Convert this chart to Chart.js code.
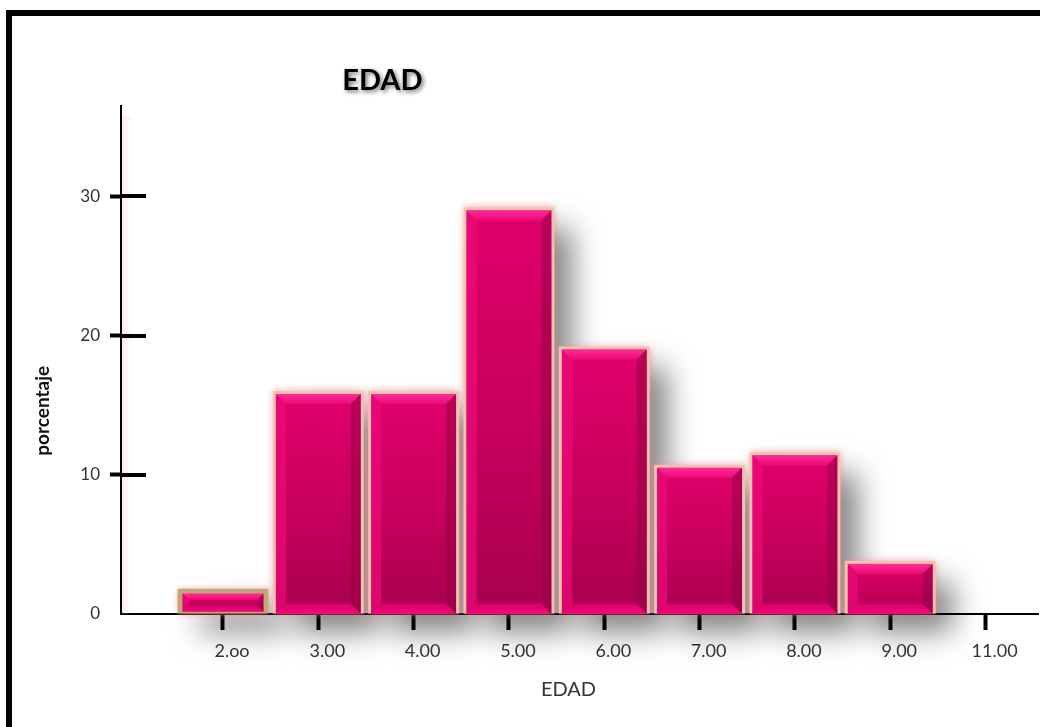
<!DOCTYPE html>
<html>
<head>
<meta charset="utf-8">
<title>EDAD</title>
<script src="https://cdn.jsdelivr.net/npm/chart.js@4.4.1/dist/chart.umd.min.js"></script>
<style>
  html, body { margin: 0; padding: 0; background: #fff; width: 1040px; height: 727px; overflow: hidden; }
  #frame { position: absolute; left: 6px; top: 10px; width: 1200px; height: 900px;
           border-left: 6px solid #000; border-top: 6px solid #000; box-sizing: border-box; }
  #wrap { position: absolute; left: 0; top: 0; width: 1040px; height: 727px; }
</style>
</head>
<body>
<div id="frame"></div>
<div id="wrap"><canvas id="chart" width="1040" height="727"></canvas></div>
<script>
// Age groups and the share of people in each one (percent)
const ageLabels = ['2.oo', '3.00', '4.00', '5.00', '6.00', '7.00', '8.00', '9.00', '11.00'];
const percentValues = [1.6, 15.8, 15.8, 29.0, 19.0, 10.5, 11.4, 3.6, 0];
const yTickValues = [0, 10, 20, 30];

const chartTitle = 'EDAD';
const xTitle = 'EDAD';
const yTitle = 'porcentaje';

const FONT = 'Lato, "Open Sans", "DejaVu Sans", sans-serif';
const TEXT = '#333333';

// Glossy bevelled bars with a soft drop shadow and a peach halo
const bevelBars = {
  id: 'bevelBars',
  beforeDatasetsDraw(chart) {
    const { ctx, chartArea, scales } = chart;
    ctx.save();
    // faint pink glow along the right side of the y axis
    const glow = ctx.createLinearGradient(chartArea.left, 0, chartArea.left + 12, 0);
    glow.addColorStop(0, 'rgba(240,150,160,0.22)');
    glow.addColorStop(1, 'rgba(240,150,160,0)');
    ctx.fillStyle = glow;
    ctx.fillRect(chartArea.left + 1, chartArea.top + 10, 12, chartArea.bottom - chartArea.top - 10);
    // inner half of the y-axis tick marks (the outer half is the scale's own tick)
    ctx.strokeStyle = '#000';
    ctx.lineWidth = 4;
    scales.y.ticks.forEach(t => {
      if (t.value === 0) return;
      const py = Math.round(scales.y.getPixelForValue(t.value));
      ctx.beginPath();
      ctx.moveTo(chartArea.left, py);
      ctx.lineTo(chartArea.left + 25, py);
      ctx.stroke();
    });
    ctx.restore();
  },
  afterDatasetsDraw(chart) {
    const { ctx } = chart;
    const meta = chart.getDatasetMeta(0);
    const rects = meta.data.map((el, i) => {
      const { x, y, base, width } = el.getProps(['x', 'y', 'base', 'width'], true);
      const L = x - width / 2, R = x + width / 2;
      const T = Math.min(y, base), B = Math.max(y, base);
      return { i, L, R, T, B, w: R - L, h: B - T };
    }).filter(r => r.h > 0.5);

    // drop shadows first so neighbouring bars sit on top of them
    rects.forEach(r => {
      ctx.save();
      ctx.fillStyle = '#000';
      ctx.shadowColor = 'rgba(0,0,0,0.5)';
      ctx.shadowBlur = 30;
      ctx.shadowOffsetX = 20000 + 20;
      ctx.shadowOffsetY = 18;
      ctx.fillRect(r.L - 20000, r.T, r.w, r.h);
      ctx.restore();
    });

    rects.forEach(r => {
      const { L, R, T, B, w, h } = r;
      const first = r.i === 0;
      // halo / rim
      ctx.save();
      ctx.shadowColor = 'rgba(245,140,140,0.8)';
      ctx.shadowBlur = 7;
      ctx.fillStyle = first ? '#c2a67a' : '#f3c3b1';
      ctx.fillRect(L - 3, T - 3, w + 6, h + 3);
      ctx.restore();

      const m = first ? 2 : 0;
      const fl = L + m, fr = R - m, ft = T + m, fb = B - m;
      const fh = fb - ft;
      const b = Math.min(10, fh / 3);

      // face
      const g = ctx.createLinearGradient(0, ft, 0, fb);
      g.addColorStop(0, '#e2006c');
      g.addColorStop(0.55, '#c6005c');
      g.addColorStop(1, '#a8004e');
      ctx.fillStyle = g;
      ctx.fillRect(fl, ft, fr - fl, fh);

      const poly = (pts, style) => {
        ctx.beginPath();
        ctx.moveTo(pts[0][0], pts[0][1]);
        for (let k = 1; k < pts.length; k++) ctx.lineTo(pts[k][0], pts[k][1]);
        ctx.closePath();
        ctx.fillStyle = style;
        ctx.fill();
      };
      // top bevel
      const gt = ctx.createLinearGradient(0, ft, 0, ft + b);
      gt.addColorStop(0, '#ff2c92');
      gt.addColorStop(1, '#ea0a7a');
      poly([[fl, ft], [fr, ft], [fr - b, ft + b], [fl + b, ft + b]], gt);
      // bottom bevel
      const gb = ctx.createLinearGradient(0, fb - b, 0, fb);
      gb.addColorStop(0, '#d6006a');
      gb.addColorStop(1, '#f7057c');
      poly([[fl, fb], [fr, fb], [fr - b, fb - b], [fl + b, fb - b]], gb);
      // left bevel
      poly([[fl, ft], [fl + b, ft + b], [fl + b, fb - b], [fl, fb]], 'rgba(236,10,120,0.75)');
      // right bevel
      poly([[fr, ft], [fr - b, ft + b], [fr - b, fb - b], [fr, fb]], 'rgba(150,0,70,0.55)');
    });
  },
  afterDraw(chart) {
    const { ctx, chartArea } = chart;
    const cw = chartArea.right - chartArea.left;
    const ch = chartArea.bottom - chartArea.top;
    ctx.save();
    // chart title with a soft shadow
    ctx.font = 'bold 29px ' + FONT;
    ctx.textAlign = 'center';
    ctx.textBaseline = 'middle';
    ctx.shadowColor = 'rgba(0,0,0,0.55)';
    ctx.shadowBlur = 4;
    ctx.shadowOffsetX = 2;
    ctx.shadowOffsetY = 2;
    ctx.fillStyle = '#000';
    ctx.fillText(chartTitle, chartArea.left + cw * 0.285, chartArea.top - 25);
    ctx.restore();

    ctx.save();
    // x-axis title
    ctx.font = '20px ' + FONT;
    ctx.fillStyle = TEXT;
    ctx.textAlign = 'center';
    ctx.textBaseline = 'middle';
    ctx.fillText(xTitle, chartArea.left + cw * 0.488, chartArea.bottom + 76);
    // y-axis title
    ctx.translate(chartArea.left - 78, chartArea.top + ch * 0.6);
    ctx.rotate(-Math.PI / 2);
    ctx.font = 'bold 19px ' + FONT;
    ctx.fillStyle = '#111';
    ctx.fillText(yTitle, 0, 0);
    ctx.restore();
  }
};

new Chart(document.getElementById('chart'), {
  type: 'bar',
  data: {
    datasets: [{
      data: percentValues.map((v, i) => ({ x: i, y: v })),
      backgroundColor: 'transparent',
      borderWidth: 0,
      barPercentage: 0.89,
      categoryPercentage: 1.0
    }]
  },
  options: {
    responsive: false,
    animation: false,
    devicePixelRatio: 1,
    layout: { padding: { top: 106, left: 0, right: 2, bottom: 0 } },
    plugins: { legend: { display: false }, title: { display: false }, tooltip: { enabled: false } },
    scales: {
      x: {
        type: 'linear',
        offset: false,
        min: -1.07,
        max: 8.55,
        afterBuildTicks: s => { s.ticks = ageLabels.map((_, i) => ({ value: i })); },
        afterFit: s => { s.height = 113; },
        ticks: {
          autoSkip: false,
          maxRotation: 0,
          padding: 10,
          labelOffset: 9,
          color: TEXT,
          font: { family: FONT, size: 18 },
          callback: v => ageLabels[v] ?? ''
        },
        grid: { offset: false, drawOnChartArea: false, drawTicks: true, tickLength: 16, tickWidth: 4, tickColor: '#000' },
        border: { display: true, color: '#000', width: 2 }
      },
      y: {
        min: 0,
        max: 36.5,
        afterBuildTicks: s => { s.ticks = yTickValues.map(v => ({ value: v })); },
        afterFit: s => { s.width = 121; },
        ticks: {
          padding: 10,
          color: TEXT,
          font: { family: FONT, size: 17 }
        },
        grid: {
          drawOnChartArea: false,
          drawTicks: true,
          tickLength: 11,
          tickWidth: 4,
          tickColor: c => (c.tick && c.tick.value === 0 ? 'rgba(0,0,0,0)' : '#000')
        },
        border: { display: true, color: '#000', width: 2 }
      }
    }
  },
  plugins: [bevelBars]
});
</script>
</body>
</html>
